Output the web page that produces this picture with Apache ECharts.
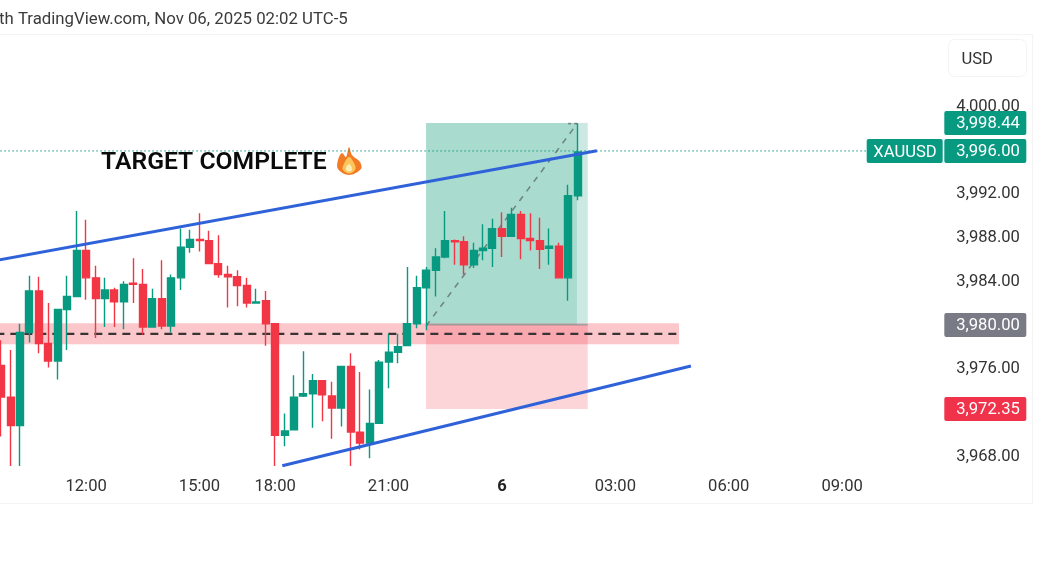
<!DOCTYPE html>
<html>
<head>
<meta charset="utf-8">
<style>html,body{margin:0;padding:0;background:#fff}#c{width:1044px;height:587px}</style>
<script src="https://cdn.jsdelivr.net/npm/echarts@6/dist/echarts.min.js"></script>
</head>
<body>
<div id="c"></div>
<script>
// Candles, 15 minute bars
const opens  = [3976.1,3973.2,3970.6,3979.1,3982.9,3978.1,3976.5,3981.2,3982.4,3986.6,3984.1,3982.2,3983.0,3981.9,3983.6,3983.5,3979.6,3982.2,3979.7,3984.1,3986.9,3987.6,3987.5,3985.4,3984.4,3984.2,3983.4,3981.8,3982.0,3979.9,3969.7,3970.2,3973.3,3973.5,3974.7,3973.3,3972.2,3976.0,3970.0,3969.0,3970.8,3976.4,3977.3,3977.9,3979.9,3983.2,3984.8,3986.0,3987.5,3987.4,3985.3,3986.6,3986.8,3988.6,3987.9,3989.9,3987.7,3987.5,3986.8,3987.0,3984.1,3991.6];
const closes = [3973.2,3970.6,3979.1,3982.9,3978.1,3976.5,3981.2,3982.4,3986.6,3984.1,3982.2,3983.0,3981.9,3983.5,3983.5,3979.6,3982.2,3979.7,3984.1,3986.9,3987.6,3987.5,3985.4,3984.4,3984.2,3983.4,3981.8,3981.9,3979.9,3969.7,3970.1,3973.2,3973.5,3974.7,3973.4,3972.2,3976.0,3970.0,3969.0,3970.8,3976.4,3977.3,3977.8,3979.9,3983.2,3984.8,3986.0,3987.5,3987.4,3985.3,3986.6,3986.8,3988.6,3987.9,3989.9,3987.7,3987.5,3986.7,3987.0,3984.1,3991.6,3995.6];
const lows   = [3969.6,3966.9,3966.9,3978.2,3977.2,3975.9,3974.8,3977.5,3982.4,3982.1,3978.6,3979.6,3979.6,3979.4,3981.8,3978.9,3979.6,3979.4,3979.1,3983.0,3986.4,3986.5,3985.4,3984.1,3981.4,3981.5,3981.4,3981.8,3977.9,3966.9,3968.7,3970.2,3973.2,3970.4,3971.0,3969.4,3970.5,3966.9,3968.4,3967.6,3970.8,3974.0,3976.3,3977.9,3979.5,3979.3,3982.4,3985.9,3985.3,3984.4,3985.0,3985.7,3985.1,3986.0,3987.9,3985.8,3986.6,3984.9,3985.3,3984.1,3982.0,3991.2];
const highs  = [3978.4,3977.5,3979.9,3984.3,3984.2,3981.8,3981.2,3984.3,3990.2,3989.4,3985.2,3984.1,3983.2,3983.8,3985.9,3984.9,3983.1,3985.7,3984.4,3988.6,3988.5,3990.0,3988.4,3988.0,3985.2,3984.8,3984.1,3983.1,3982.9,3979.9,3971.7,3975.2,3977.4,3975.3,3974.7,3974.6,3976.0,3977.2,3975.5,3973.9,3976.6,3979.0,3979.0,3985.1,3984.3,3985.1,3986.8,3990.2,3987.6,3987.9,3987.3,3989.0,3989.5,3990.1,3990.5,3990.2,3990.0,3989.6,3988.6,3987.3,3992.6,3998.2];

// Axis labels
const barSlots = 100;
const timeTickSlots = [9,21,29,41,53,65,77,89];
const timeTickLabels = ['12:00','15:00','18:00','21:00','6','03:00','06:00','09:00'];
const priceTicks = [3968,3976,3984,3988,3992,4000];

// Drawings: [slot, price]
const upperTrend = [[-0.5,3985.7],[63.05,3995.72]];
const lowerTrend = [[29.76,3966.93],[73,3976.04]];
const diagonal   = [[44.97,3979.7],[61,3998.24]];
const targetTick = [[60,3998.2],[61,3998.2]];
const entryEdge  = [[44.97,3979.8],[62.08,3979.8]];
const lastLine   = [[-0.5,3995.7],[99.5,3995.7]];
const midLine    = [[-0.5,3978.97],[71.74,3978.97]];

// Zones: x0, x1, upper price, lower price
const profitZone = [44.97,61,3998.26,3979.8];
const profitGhost = [61,62.08,3998.26,3979.8];
const lossZone = [44.97,62.08,3979.8,3972.11];
const supplyBand = [-0.5,71.74,3979.95,3978.03];

// Price tags
const tagLevels = [3998.26,3995.7,3979.8,3972.11];
const tagTexts = ['3,998.44','3,996.00','3,980.00','3,972.35'];

const GREEN='#089981', RED='#f23645', FONT='Roboto, sans-serif', FS=16.6;
const categories = Array.from({length:barSlots},(_,k)=>String(k));
const candles = opens.map((o,i)=>[o,closes[i],lows[i],highs[i]]);

function lineS(data,color,width,type,z,cap){
  return {type:'line',xAxisIndex:1,data,symbol:'none',silent:true,z,
    lineStyle:{color,width,type,cap:cap||'butt'},animation:false};
}
function zoneS(zone,color,z){
  return {type:'custom',xAxisIndex:1,clip:true,silent:true,z,
    data:[zone],
    encode:{x:[0,1],y:[2,3]},
    renderItem(p,api){
      const a=api.coord([api.value(0),api.value(2)]);
      const b=api.coord([api.value(1),api.value(3)]);
      return {type:'rect',shape:{x:a[0],y:a[1],width:b[0]-a[0],height:b[1]-a[1]},style:{fill:color}};
    }};
}
const tagColors=[GREEN,GREEN,'#787b86','#f0324a'];
const tagSeries={type:'custom',xAxisIndex:1,clip:false,silent:true,z:20,
  data:tagLevels.map((v,i)=>[0,v,i]),
  encode:{x:0,y:1},
  renderItem(p,api){
    const i=api.value(2), y=api.coord([0,api.value(1)])[1];
    const kids=[
      {type:'rect',shape:{x:944.3,y:y-12,width:82,height:24,r:2},style:{fill:tagColors[i]}},
      {type:'text',style:{x:988,y:y+1,text:tagTexts[i],fill:'#fff',font:FS+'px '+FONT,align:'center',verticalAlign:'middle'}}
    ];
    if(i===1){
      kids.push({type:'rect',shape:{x:866.7,y:y-12,width:76,height:24,r:2},style:{fill:tagColors[i]}});
      kids.push({type:'text',style:{x:905,y:y+2,text:'XAUUSD',fill:'#fff',font:FS+'px '+FONT,align:'center',verticalAlign:'middle'}});
    }
    return {type:'group',children:kids};
  }};

const chart=echarts.init(document.getElementById('c'),null,{renderer:'canvas'});
chart.setOption({
  animation:false,
  backgroundColor:'#fff',
  grid:{left:-3.65,top:35,width:945,height:431,containLabel:false,outerBoundsMode:'none'},
  xAxis:[
    {type:'category',data:categories,boundaryGap:true,
     axisLine:{show:false},axisTick:{show:false},splitLine:{show:false},
     axisLabel:{margin:12.5,color:'#333',fontFamily:FONT,fontSize:FS,hideOverlap:false,
       interval:(i)=>timeTickSlots.includes(i),
       formatter:(v,i)=>{
         const t=timeTickLabels[timeTickSlots.indexOf(i)];
         return t==='6'?'{b|6}':t;
       },
       rich:{b:{fontWeight:'bold',fontSize:FS,fontFamily:FONT,color:'#222'}}}},
    {type:'value',min:-0.5,max:99.5,show:false,splitLine:{show:false}}
  ],
  yAxis:{type:'value',position:'right',min:3966.9,max:4006.3,scale:true,
    axisLine:{show:false},axisTick:{show:false},splitLine:{show:false},
    axisLabel:{customValues:priceTicks,margin:15,color:'#333',fontFamily:FONT,fontSize:FS,
      formatter:(v)=>'{p|'+v.toLocaleString('en-US',{minimumFractionDigits:2,maximumFractionDigits:2})+'}',
      rich:{p:{fontFamily:FONT,fontSize:FS,color:'#333',padding:[5,0,0,0]}}}},
  series:[
    zoneS(profitZone,'#a9dccf',1),
    zoneS(profitGhost,'#cbe9e2',1),
    zoneS(lossZone,'#fcd5d9',1),
    zoneS(supplyBand,'rgba(242,54,69,0.28)',2),
    lineS(entryEdge,'#8a8f96',1,'solid',3),
    lineS(lastLine,'#089981',1,[1.5,2.5],3),
    lineS(midLine,'#3a3334',2.2,[8,6],3),
    lineS(diagonal,'rgba(95,105,105,0.75)',1.6,[6,6],3),
    lineS(targetTick,'rgba(95,105,105,0.75)',1.6,[3,3],3),
    {type:'candlestick',xAxisIndex:0,data:candles,barWidth:7.5,z:5,silent:true,
     itemStyle:{color:GREEN,color0:RED,borderColor:GREEN,borderColor0:RED,borderColorDoji:RED,borderWidth:1.4}},
    lineS(upperTrend,'#2f62d9',3,'solid',6),
    lineS(lowerTrend,'#2f62d9',3,'solid',6),
    tagSeries
  ],
  graphic:[
    {type:'line',shape:{x1:0,y1:34.5,x2:1032,y2:34.5},style:{stroke:'#f4f4f4',lineWidth:1}},
    {type:'line',shape:{x1:1032.5,y1:34,x2:1032.5,y2:504},style:{stroke:'#f4f4f4',lineWidth:1}},
    {type:'line',shape:{x1:0,y1:503.5,x2:1032,y2:503.5},style:{stroke:'#f4f4f4',lineWidth:1}},
    {type:'rect',shape:{x:948.5,y:39.5,width:78,height:37,r:6},style:{fill:'#fff',stroke:'#f3f4f6',lineWidth:1}},
    {type:'text',x:961.5,y:60,style:{text:'USD',fill:'#333',font:FS+'px '+FONT,verticalAlign:'middle'}},
    {type:'text',x:-1,y:20,style:{text:'th TradingView.com, Nov 06, 2025 02:02 UTC-5',fill:'#3b3b3b',font:'16.8px '+FONT,verticalAlign:'middle'}},
    {type:'text',x:101,y:163,style:{text:'TARGET COMPLETE',fill:'#0b0b0b',font:'600 24.7px '+FONT,verticalAlign:'middle'}},
    {type:'polygon',shape:{smooth:0.35,points:[[349,147],[352,155],[360,162],[361,169],[349,175],[338,169],[338,160],[342,153],[346,157]]},style:{fill:'#f37b26'}},
    {type:'polygon',shape:{smooth:0.35,points:[[349,157],[355,165],[355,170],[349,173.5],[343,170],[343,166]]},style:{fill:'#fbc55a'}},
    {type:'polygon',shape:{smooth:0.35,points:[[349,164],[352,168],[351,171],[347,171],[346,168]]},style:{fill:'#fdeeb8'}}
  ]
});
</script>
</body>
</html>
